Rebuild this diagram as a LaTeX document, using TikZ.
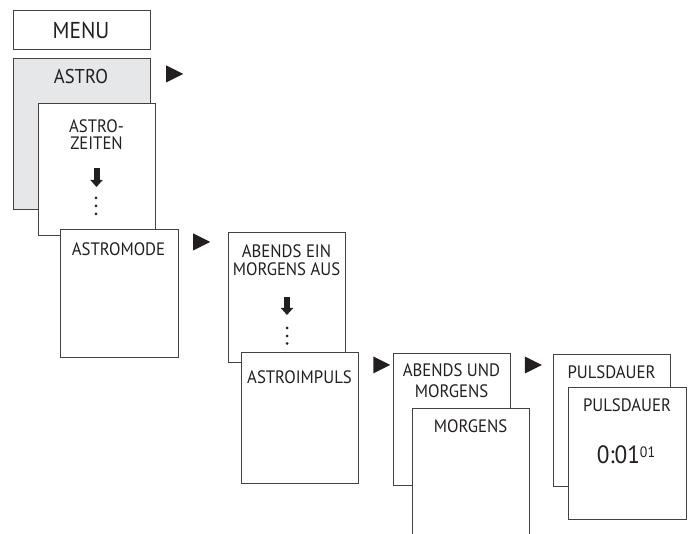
\documentclass[tikz,border=0pt]{standalone}
\usepackage{fontspec}
\setmainfont{PT Sans}[FakeStretch=0.93]
\usepackage{tikz}
\usetikzlibrary{positioning, shapes.geometric, arrows.meta}
\definecolor{astrogray}{HTML}{E6E7E8}
\definecolor{ink}{HTML}{231F20}

\begin{document}
\begin{tikzpicture}[x=1pt, y=-1pt,
    screen/.style={draw=ink!85, line width=0.8pt, fill=white, anchor=north west,
      minimum width=117pt, minimum height=130pt, inner sep=0pt},
    txt/.style={text=ink, inner sep=0pt, align=center, font=\fontsize{18}{17.5}\selectfont},
    next/.style={isosceles triangle, isosceles triangle stretches, fill=ink, inner sep=0pt,
      minimum width=17pt, minimum height=17pt},
    down/.style={ink, line width=6pt, -{Triangle[width=12pt, length=7pt]}}]
    \useasboundingbox (0,0) rectangle (691,534);

    \node[screen, minimum width=137pt, minimum height=39pt] (menu) at (13,10) {};
    \node[txt, font=\fontsize{23}{23}\selectfont] (menutxt) at (81,30) {MENU};

    \node[screen, fill=astrogray, minimum width=137pt, minimum height=151pt] (astro) at (13,58) {};
    \node[txt, font=\fontsize{20}{20}\selectfont] (astrotxt) at (81,77) {ASTRO};
    \node[next] (toastro) at (171.5,74) {};

    \node[screen, minimum height=132pt] (zeiten) at (38,103) {};
    \node[txt] (zeitentxt) at (96.5,134.5) {ASTRO-\\ZEITEN};
    \coordinate (zeitenA) at (96.5,168);
    \coordinate (zeitenB) at (96.5,187);
    \draw[down] (zeitenA) -- (zeitenB);
    \foreach \y in {198,206,214}
        \fill[ink] (96,\y) circle (1.5pt);

    \node[screen, minimum width=118pt, minimum height=128pt] (mode) at (60,229) {};
    \node[txt] (modetxt) at (118.5,249) {ASTROMODE};
    \node[next] (tomode) at (198.5,242) {};

    \node[screen] (abendein) at (228,232) {};
    \node[txt] (abendeintxt) at (286.5,260) {ABENDS EIN\\MORGENS AUS};
    \coordinate (abendeinA) at (287,297);
    \coordinate (abendeinB) at (287,315);
    \draw[down] (abendeinA) -- (abendeinB);
    \foreach \y in {328,336,343.5}
        \fill[ink] (287,\y) circle (1.5pt);

    \node[screen, minimum height=131pt] (impuls) at (241,352) {};
    \node[txt] (impulstxt) at (299.5,377) {ASTROIMPULS};
    \node[next] (toimpuls) at (378.5,365) {};

    % Abends und morgens / morgens
    \node[screen, minimum height=132pt] (beide) at (393,353) {};
    \node[txt, font=\fontsize{18}{21}\selectfont] (beidetxt) at (451.5,380.5) {ABENDS UND\\MORGENS};
    \node[screen] (morgens) at (412,408) {};
    \node[txt] (morgenstxt) at (470.5,426) {MORGENS};
    \node[next] (tobeide) at (530,365) {};

    % Pulsdauer
    \node[screen, minimum height=132pt] (dauer) at (553,354) {};
    \node[txt] (dauertxt) at (611.5,372) {PULSDAUER};
    \node[screen, minimum width=118pt, minimum height=132pt] (dauerwert) at (568,387) {};
    \node[txt] (dauerwerttxt) at (627,405) {PULSDAUER};
    \node[txt, font=\fontsize{25}{25}\selectfont] (wert) at (626,455)
        {0:01\raisebox{6.5pt}{\fontsize{15}{15}\selectfont 01}};
\end{tikzpicture}
\end{document}
